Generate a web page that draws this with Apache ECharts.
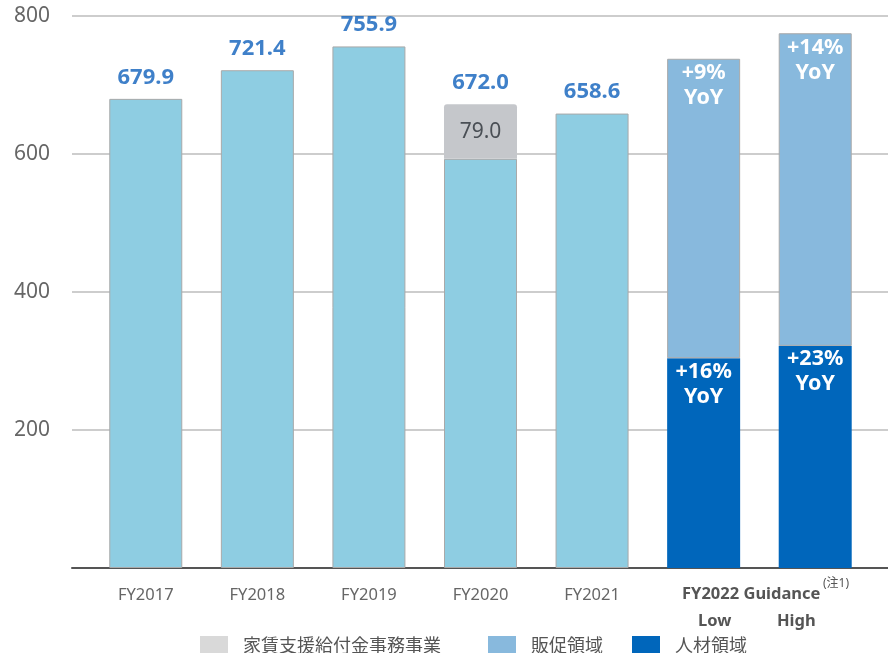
<!DOCTYPE html>
<html><head><meta charset="utf-8">
<script src="https://cdn.jsdelivr.net/npm/echarts@6/dist/echarts.min.js"></script>
<style>html,body{margin:0;padding:0;background:#fff}#c{width:888px;height:653px}</style>
</head><body><div id="c"></div>
<script>
const categories = ['FY2017','FY2018','FY2019','FY2020','FY2021','Low','High'];
const histValues = [679.9, 721.4, 755.9, 593.0, 658.6, null, null];
const rentSupport = [null, null, null, 79.0, null, null, null];
const hrValues = [null, null, null, null, null, 304, 322];
const promoValues = [null, null, null, null, null, 434, 453];
const totals = [679.9, 721.4, 755.9, 672.0, 658.6, null, null];
const hrYoY = [null, null, null, null, null, '+16%', '+23%'];
const promoYoY = [null, null, null, null, null, '+9%', '+14%'];
const yTicks = [0, 200, 400, 600, 800];
const seriesNames = ['家賃支援給付金事務事業', '販促領域', '人材領域'];
const guidanceTitle = 'FY2022 Guidance';
const guidanceNote = '(注1)';

const FONT = '"Noto Sans","Noto Sans CJK JP",sans-serif';
const chart = echarts.init(document.getElementById('c'));
const border = {borderColor:'#A9A9A9', borderWidth:1};
const legendBase = {top:636, itemWidth:28, itemHeight:22, padding:0, icon:'rect',
  textStyle:{fontSize:18, color:'#555', padding:[0,0,0,10], fontFamily:FONT}};
chart.setOption({
  animation:false,
  textStyle:{fontFamily:FONT},
  grid:[
    {left:72, right:0, top:16, bottom:85},
    {left:90, right:17, top:16, bottom:85}
  ],
  xAxis:[
    {gridIndex:0, type:'category', data:[''], axisLine:{show:true, lineStyle:{color:'#555', width:2}},
     axisTick:{show:false}, axisLabel:{show:false}, splitLine:{show:false}},
    {gridIndex:1, type:'category', data:categories, axisLine:{show:false}, axisTick:{show:false},
     axisLabel:{margin:19, fontSize:16.5, color:'#666', fontFamily:FONT,
       formatter:(v,i)=> histValues[i]!=null ? v : ''}}
  ],
  yAxis:[
    {gridIndex:0, type:'value', min:yTicks[0], max:yTicks[yTicks.length-1], interval:200,
     axisLine:{show:false}, axisTick:{show:false},
     axisLabel:{margin:22, fontSize:21, color:'#666', fontFamily:FONT, formatter:v=> v===0?'':String(v)},
     splitLine:{lineStyle:{color:'#BDBDBD', width:1.5}}},
    {gridIndex:1, type:'value', min:0, max:800, interval:200, show:false, splitLine:{show:false}}
  ],
  legend:[
    Object.assign({data:[{name:seriesNames[0], itemStyle:{color:'#D9D9D9', borderWidth:0}}], left:200}, legendBase),
    Object.assign({data:[{name:seriesNames[1], itemStyle:{borderWidth:0}}], left:488}, legendBase),
    Object.assign({data:[{name:seriesNames[2], itemStyle:{borderWidth:0}}], left:632}, legendBase)
  ],
  series:[
    {name:'実績', type:'bar', xAxisIndex:1, yAxisIndex:1, stack:'a', barWidth:73, data:histValues,
     itemStyle:Object.assign({color:'#8ECDE2'}, border)},
    {name:seriesNames[0], type:'bar', xAxisIndex:1, yAxisIndex:1, stack:'a', barWidth:73, data:rentSupport,
     itemStyle:{color:'#C5C7CB', borderRadius:[3,3,0,0]},
     label:{show:true, position:'inside', fontSize:21, color:'#4a4f55', fontFamily:FONT, formatter:p=>p.value.toFixed(1)}},
    {name:seriesNames[2], type:'bar', xAxisIndex:1, yAxisIndex:1, stack:'a', barWidth:73, data:hrValues,
     itemStyle:{color:'#0066BB'},
     label:{show:true, position:'insideTop', distance:1, fontSize:21.5, fontWeight:'bold', color:'#fff', lineHeight:25,
       fontFamily:FONT, formatter:p=>hrYoY[p.dataIndex]+'\nYoY'}},
    {name:seriesNames[1], type:'bar', xAxisIndex:1, yAxisIndex:1, stack:'a', barWidth:73, data:promoValues,
     itemStyle:Object.assign({color:'#88B9DD'}, border),
     label:{show:true, position:'insideTop', distance:2, fontSize:21.5, fontWeight:'bold', color:'#fff', lineHeight:25,
       fontFamily:FONT, formatter:p=>promoYoY[p.dataIndex]+'\nYoY'}},
    {name:'合計', type:'scatter', xAxisIndex:1, yAxisIndex:1, data:totals, symbolSize:1,
     itemStyle:{color:'rgba(0,0,0,0)'}, z:5,
     label:{show:true, position:'top', distance:10, fontSize:22, fontWeight:'bold', color:'#0F60BC', fontFamily:FONT,
       formatter:p=>{const v=Array.isArray(p.value)?p.value[1]:p.value; return v==null?'':Number(v).toFixed(1);}}}
  ],
  graphic:[
    {type:'text', left:682, top:586, style:{text:guidanceTitle, fontSize:16.5, fontWeight:'bold', fill:'#555', fontFamily:FONT}},
    {type:'text', left:823, top:578, style:{text:guidanceNote, fontSize:12, fill:'#555', fontFamily:FONT}},
    {type:'text', left:698, top:613, style:{text:categories[5], fontSize:16.5, fontWeight:'bold', fill:'#555', fontFamily:FONT}},
    {type:'text', left:777, top:613, style:{text:categories[6], fontSize:16.5, fontWeight:'bold', fill:'#555', fontFamily:FONT}}
  ]
});
</script></body></html>
